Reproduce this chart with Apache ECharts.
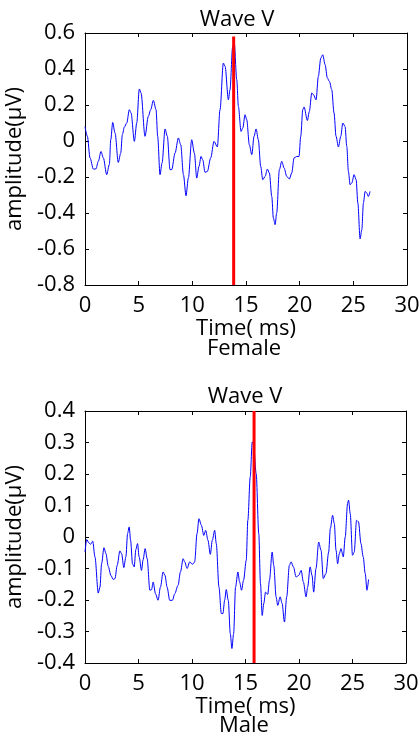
<!DOCTYPE html>
<html><head><meta charset="utf-8">
<script src="https://cdn.jsdelivr.net/npm/echarts@6/dist/echarts.min.js"></script>
<style>html,body{margin:0;padding:0;background:#fff}#c{width:420px;height:735px}</style>
</head><body><div id="c"></div>
<script>
var femaleT = [0,0.22,0.47,0.78,1.02,1.24,1.49,1.71,2.02,2.27,2.4,2.58,2.8,3.1,3.33,3.48,3.67,3.89,4.13,4.29,4.6,4.82,5.06,5.22,5.59,5.9,6.12,6.37,6.62,6.77,6.99,7.18,7.46,7.67,7.92,8.08,8.39,8.7,8.92,9.17,9.41,9.63,9.94,10.19,10.41,10.62,10.81,10.97,11.18,11.4,11.71,12.02,12.33,12.58,12.89,13.05,13.36,13.51,13.75,13.9,14.14,14.29,14.54,14.7,14.91,15.07,15.31,15.54,15.75,15.94,16.15,16.37,16.56,16.78,16.99,17.18,17.4,17.55,17.71,17.86,18.11,18.33,18.55,18.8,19.04,19.26,19.48,19.73,19.94,20.1,20.29,20.41,20.72,20.9,21.13,21.28,21.53,21.74,21.97,22.15,22.37,22.58,22.77,22.99,23.2,23.39,23.61,23.83,24.02,24.23,24.39,24.54,24.7,24.86,25.07,25.26,25.42,25.63,25.79,25.94,26.1,26.25,26.4,26.56];
var femaleV = [0.08,0.026,-0.094,-0.156,-0.155,-0.113,-0.058,-0.094,-0.187,-0.13,0.007,0.103,0.044,-0.119,-0.067,0.035,0.078,0.1,0.174,0.156,-0.002,0.1,0.289,0.267,0.026,0.137,0.174,0.226,0.174,0.026,-0.187,-0.122,0.067,0.026,-0.159,-0.159,-0.067,0.017,-0.021,-0.187,-0.304,-0.206,0.007,-0.067,-0.206,-0.141,-0.086,-0.104,-0.174,-0.169,-0.094,-0.002,-0.033,0.174,0.433,0.415,0.229,0.285,0.52,0.55,0.34,0.192,0.053,0.072,0.146,0.118,-0.021,-0.076,0.026,0.067,0.007,-0.141,-0.215,-0.197,-0.156,-0.178,-0.308,-0.428,-0.465,-0.4,-0.159,-0.113,-0.15,-0.197,-0.211,-0.178,-0.094,-0.086,-0.086,0.026,0.174,0.189,0.114,0.164,0.267,0.257,0.229,0.359,0.461,0.479,0.424,0.35,0.331,0.285,0.156,0.026,-0.033,0.026,0.1,0.081,-0.03,-0.169,-0.243,-0.233,-0.187,-0.215,-0.344,-0.544,-0.493,-0.344,-0.28,-0.289,-0.308,-0.28];
var maleT = [0,0.16,0.37,0.53,0.72,0.93,1.24,1.4,1.55,1.77,1.96,2.17,2.42,2.64,2.8,3.01,3.26,3.42,3.63,3.82,3.98,4.13,4.26,4.44,4.6,4.75,4.91,5.06,5.28,5.43,5.62,5.81,6.06,6.22,6.37,6.59,6.83,7.05,7.3,7.48,7.67,7.92,8.17,8.39,8.7,8.92,9.17,9.32,9.54,9.79,10.04,10.25,10.47,10.65,10.88,11.1,11.28,11.49,11.71,11.9,12.12,12.27,12.52,12.74,12.89,13.05,13.2,13.39,13.58,13.73,13.89,14.07,14.29,14.45,14.63,14.82,15.07,15.22,15.44,15.63,15.75,16.0,16.24,16.4,16.56,16.71,16.87,17.08,17.24,17.49,17.64,17.86,18.01,18.24,18.42,18.64,18.85,19.1,19.26,19.48,19.73,19.97,20.2,20.41,20.66,20.81,21.04,21.22,21.37,21.59,21.84,22.06,22.27,22.52,22.77,22.93,23.14,23.3,23.46,23.61,23.77,23.92,24.14,24.32,24.54,24.63,24.79,25.0,25.16,25.38,25.56,25.79,26.0,26.19,26.35,26.5];
var maleV = [-0.048,-0.008,-0.019,-0.023,-0.013,-0.063,-0.178,-0.159,-0.085,-0.034,-0.053,-0.093,-0.122,-0.135,-0.132,-0.09,-0.044,-0.053,-0.097,-0.063,0.011,0.032,-0.01,-0.085,-0.095,-0.04,-0.021,-0.063,-0.106,-0.072,-0.037,-0.069,-0.169,-0.167,-0.143,-0.18,-0.201,-0.159,-0.111,-0.122,-0.159,-0.201,-0.201,-0.18,-0.153,-0.111,-0.069,-0.079,-0.1,-0.079,-0.087,-0.079,0.011,0.058,0.037,0.005,0.021,-0.01,-0.055,-0.01,0.021,-0.021,-0.159,-0.243,-0.243,-0.201,-0.167,-0.201,-0.307,-0.354,-0.307,-0.159,-0.111,-0.143,-0.169,-0.137,-0.074,0.053,0.19,0.302,0.296,0.201,0.011,-0.148,-0.249,-0.211,-0.175,-0.182,-0.137,-0.048,-0.09,-0.19,-0.217,-0.19,-0.211,-0.27,-0.19,-0.09,-0.079,-0.095,-0.127,-0.122,-0.106,-0.143,-0.19,-0.159,-0.095,-0.122,-0.175,-0.1,-0.016,-0.042,-0.132,-0.116,-0.048,0.027,0.069,0.043,-0.042,-0.085,-0.053,-0.037,-0.063,0.0,0.106,0.117,0.074,-0.058,-0.048,0.053,0.048,-0.021,-0.063,-0.116,-0.169,-0.135];
var femaleMarker = 13.85, femaleMarkerTop = 0.58;
var maleMarker = 15.8, maleMarkerTop = 0.4;
var xTicks = [0, 30, 5];
var femaleY = [-0.8, 0.6, 0.2];
var maleY = [-0.4, 0.4, 0.1];

function zip(a, b) { return a.map(function (t, i) { return [t, b[i]]; }); }
var FONT = '"Open Sans", "DejaVu Sans", sans-serif';
var FS = 22;
function xAx(grid, pos, showLabel, name, gap) {
  return {type: 'value', gridIndex: grid, position: pos, min: xTicks[0], max: xTicks[1], interval: xTicks[2],
    axisLine: {show: true, onZero: false, lineStyle: {color: '#000', width: 1}},
    axisTick: {show: true, inside: true, length: 4, lineStyle: {color: '#000'}},
    axisLabel: {show: showLabel, color: '#000', fontSize: FS, fontFamily: FONT, margin: 10},
    splitLine: {show: false},
    name: name || '', nameLocation: 'middle', nameGap: gap || 30,
    nameTextStyle: {color: '#000', fontSize: FS, fontFamily: FONT}};
}
function yAx(grid, pos, showLabel, r, name) {
  return {type: 'value', gridIndex: grid, position: pos, min: r[0], max: r[1], interval: r[2],
    axisLine: {show: true, onZero: false, lineStyle: {color: '#000', width: 1}},
    axisTick: {show: true, inside: true, length: 4, lineStyle: {color: '#000'}},
    axisLabel: {show: showLabel, color: '#000', fontSize: FS, fontFamily: FONT, margin: 10,
      formatter: function (v) { return String(Math.round(v * 10) / 10); }},
    splitLine: {show: false},
    name: name || '', nameLocation: 'middle', nameGap: 48,
    nameTextStyle: {color: '#000', fontSize: FS, fontFamily: FONT}};
}
function label(s, x, y) {
  return {type: 'text', x: x, y: y, style: {text: s, fill: '#000', font: FS + 'px ' + FONT, textAlign: 'center', textVerticalAlign: 'middle'}};
}
var chart = echarts.init(document.getElementById('c'), null, {renderer: 'canvas'});
chart.setOption({
  animation: false,
  backgroundColor: '#fff',
  grid: [
    {left: 85, top: 33, width: 322, height: 252, containLabel: false, outerBoundsMode: 'none'},
    {left: 85, top: 411, width: 321, height: 252, containLabel: false, outerBoundsMode: 'none'}
  ],
  xAxis: [xAx(0, 'bottom', true, 'Time( ms)', 31), xAx(0, 'top', false), xAx(1, 'bottom', true, 'Time( ms)', 30), xAx(1, 'top', false)],
  yAxis: [yAx(0, 'left', true, femaleY, 'amplitude(\u03bcV)'), yAx(0, 'right', false, femaleY), yAx(1, 'left', true, maleY, 'amplitude(\u03bcV)'), yAx(1, 'right', false, maleY)],
  graphic: [
    label('Wave V', 237, 20),
    label('Female', 244, 349),
    label('Wave V', 245, 397),
    label('Male', 244, 726)
  ],
  series: [
    {type: 'line', xAxisIndex: 0, yAxisIndex: 0, data: zip(femaleT, femaleV), showSymbol: false, smooth: 0.3, smoothMonotone: 'x',
      lineStyle: {color: '#0000ff', width: 1}},
    {type: 'line', xAxisIndex: 0, yAxisIndex: 0, data: [[femaleMarker, femaleY[0]], [femaleMarker, femaleMarkerTop]], showSymbol: false,
      lineStyle: {color: '#ff0000', width: 3}},
    {type: 'line', xAxisIndex: 2, yAxisIndex: 2, data: zip(maleT, maleV), showSymbol: false, smooth: 0.3, smoothMonotone: 'x',
      lineStyle: {color: '#0000ff', width: 1}},
    {type: 'line', xAxisIndex: 2, yAxisIndex: 2, data: [[maleMarker, maleY[0]], [maleMarker, maleMarkerTop]], showSymbol: false,
      lineStyle: {color: '#ff0000', width: 3}}
  ]
});
</script></body></html>
